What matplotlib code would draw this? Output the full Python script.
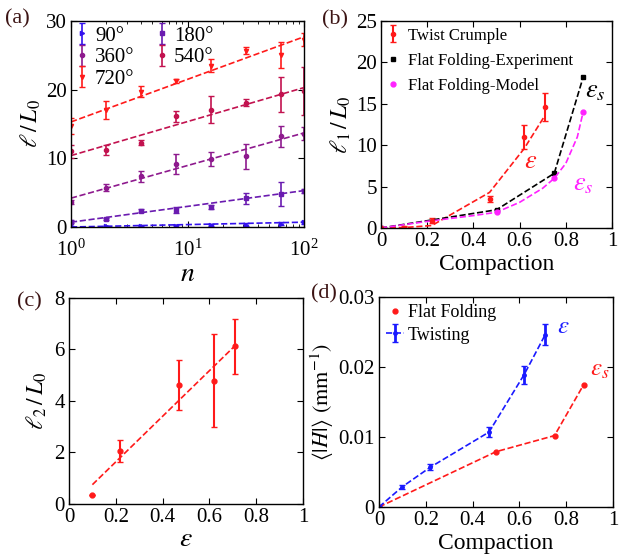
import matplotlib
matplotlib.use("Agg")
import matplotlib.pyplot as plt

plt.rcParams['font.family'] = 'serif'
plt.rcParams['font.serif'] = ['Liberation Serif', 'DejaVu Serif']
plt.rcParams['mathtext.fontset'] = 'stix'
plt.rcParams['xtick.direction'] = 'in'
plt.rcParams['ytick.direction'] = 'in'
plt.rcParams['xtick.top'] = True
plt.rcParams['ytick.right'] = True
plt.rcParams['axes.linewidth'] = 1.0

# (a) длина от числа циклов n
n_vals = [1, 2, 4, 8, 16, 32, 64, 100]
angles = ['90°', '180°', '360°', '540°', '720°']
a_colors = ['#3311ee', '#6a1bb0', '#8e1a8e', '#c2124f', '#ff1a1a']
a_markers = ['>', 's', 'o', 'o', 'v']
a_y = [
    [0.1, 0.1, 0.1, 0.15, 0.25, 0.35, 0.5, 0.7],
    [0.8, 1.1, 2.4, 2.5, 2.9, 4.2, 4.8, 5.3],
    [3.6, 5.7, 7.4, 9.2, 9.9, 10.3, 13.2, 13.6],
    [11.0, 11.2, 12.3, 16.1, 17.1, 18.1, 19.3, 19.8],
    [14.7, 17.0, 19.7, 21.2, 23.5, 25.7, 25.0, 27.3],
]
a_err = [
    [0.05, 0.05, 0.05, 0.1, 0.15, 0.2, 0.2, 0.2],
    [0.15, 0.15, 0.2, 0.4, 0.3, 0.8, 1.8, 0.3],
    [0.3, 0.5, 0.8, 1.5, 1.0, 1.8, 1.5, 1.0],
    [1.0, 0.7, 0.4, 0.8, 2.0, 0.5, 2.6, 3.5],
    [1.1, 1.3, 0.8, 0.3, 1.0, 0.5, 1.9, 1.0],
]
a_fit_n = [1, 100]
a_fit = [[0.0, 0.7], [0.7, 5.3], [4.2, 13.7], [10.4, 20.3], [15.3, 27.7]]

# (b) l1/L0 от уплотнения
b_tw_x = [0, 0.1, 0.22, 0.47, 0.62, 0.71]
b_tw_y = [0, 0.0, 0.85, 3.5, 11.0, 14.6]
b_tw_err = [0.1, 0.2, 0.3, 0.4, 1.4, 1.7]
b_tw_fit = [0, 0.05, 0.3, 4.3, 9.6, 13.6]
b_exp_x = [0, 0.5, 0.75, 0.875]
b_exp_y = [0, 2.2, 6.6, 18.2]
b_mod_x = [0, 0.5, 0.75, 0.875]
b_mod_y = [0, 1.9, 6.0, 14.0]
b_curve_x = [0, 0.1, 0.2, 0.3, 0.4, 0.5, 0.6, 0.7, 0.75, 0.8, 0.85, 0.875]
b_curve_y = [0, 0.4, 0.8, 1.15, 1.5, 1.9, 3.1, 4.8, 6.0, 7.8, 11.0, 14.0]

# (c) l2/L0 от epsilon
c_x = [0.1, 0.22, 0.47, 0.62, 0.71]
c_y = [0.35, 2.05, 4.62, 4.79, 6.12]
c_err = [0.0, 0.43, 0.96, 1.8, 1.06]
c_fit_x = [0.1, 0.71]
c_fit_y = [0.75, 6.15]

# (d) средняя кривизна
d_ff_x = [0, 0.5, 0.75, 0.875]
d_ff_y = [0, 0.0079, 0.0102, 0.0175]
d_tw_x = [0, 0.1, 0.22, 0.47, 0.62, 0.71]
d_tw_y = [0, 0.0029, 0.0057, 0.0107, 0.0189, 0.0246]
d_tw_err = [0.0002, 0.0003, 0.0004, 0.0007, 0.0013, 0.0015]

fig = plt.figure(figsize=(6.25, 5.58), dpi=100)
ax_a = fig.add_axes([0.1136, 0.5932, 0.3728, 0.3692])
ax_b = fig.add_axes([0.6096, 0.5914, 0.3696, 0.3710])
ax_c = fig.add_axes([0.1104, 0.0968, 0.3744, 0.3692])
ax_d = fig.add_axes([0.6064, 0.0914, 0.3744, 0.3763])

tick_fs = 15
lab_col = '#3c1414'
ticks01 = [0, 0.2, 0.4, 0.6, 0.8, 1]
ticks01_lbl = ['0', '0.2', '0.4', '0.6', '0.8', '1']

# --- (a)
handles = []
for i in range(len(angles)):
    h = ax_a.errorbar(n_vals, a_y[i], yerr=a_err[i], fmt=a_markers[i], color=a_colors[i],
                      ms=3, capsize=2, elinewidth=1.2, label=angles[i])
    ax_a.plot(a_fit_n, a_fit[i], '--', color=a_colors[i], lw=1.2)
    handles.append(h)
ax_a.set_xscale('log')
ax_a.set_xlim(1, 100)
ax_a.set_ylim(0, 30)
ax_a.set_yticks([0, 10, 20, 30])
ax_a.set_xlabel('$n$', fontsize=20, labelpad=1)
ax_a.set_ylabel(r'$\ell\,/\,L_0$', fontsize=17, labelpad=2)
order = [0, 2, 4, 1, 3]
ax_a.legend([handles[k] for k in order], [angles[k] for k in order], ncol=2, frameon=False,
            loc='upper left', fontsize=15, handlelength=0.6, handletextpad=0.3,
            columnspacing=1.0, labelspacing=0.1, borderaxespad=0.1, borderpad=0.15)
fig.text(0.008, 1 - 19 / 558, '(a)', fontsize=16, color=lab_col, va='center')

# --- (b)
ax_b.plot(b_tw_x, b_tw_fit, '--', color='#ff1a1a', lw=1.2)
h_tw = ax_b.errorbar(b_tw_x, b_tw_y, yerr=b_tw_err, fmt='o', color='#ff1a1a', ms=3, capsize=2)
ax_b.plot(b_exp_x, b_exp_y, '--', color='black', lw=1.2)
h_exp, = ax_b.plot(b_exp_x, b_exp_y, 's', color='black', ms=3.5)
ax_b.plot(b_curve_x, b_curve_y, '--', color='#ff22ff', lw=1.2)
h_mod, = ax_b.plot(b_mod_x, b_mod_y, 'o', color='#ff22ff', ms=3.5)
ax_b.set_xlim(0, 1)
ax_b.set_ylim(0, 25)
ax_b.set_yticks([0, 5, 10, 15, 20, 25])
ax_b.set_xticks(ticks01)
ax_b.set_xticklabels(ticks01_lbl)
ax_b.set_xlabel('Compaction', fontsize=17, labelpad=2)
ax_b.set_ylabel(r'$\ell_1\,/\,L_0$', fontsize=17, labelpad=2)
ax_b.legend([h_tw, h_exp, h_mod],
            ['Twist Crumple', 'Flat Folding-Experiment', 'Flat Folding-Model'],
            frameon=False, loc='upper left', fontsize=12, handlelength=0.6,
            handletextpad=0.6, labelspacing=0.55, borderaxespad=0.1, borderpad=0.3)
ax_b.text(0.62, 7.2, r'$\varepsilon$', color='#ff1a1a', fontsize=19)
ax_b.text(0.885, 15.8, r'$\varepsilon_s$', color='black', fontsize=19)
ax_b.text(0.83, 4.6, r'$\varepsilon_s$', color='#ff22ff', fontsize=19)
fig.text(0.515, 1 - 20 / 558, '(b)', fontsize=16, color=lab_col, va='center')

# --- (c)
ax_c.plot(c_fit_x, c_fit_y, '--', color='#ff1a1a', lw=1.2)
ax_c.errorbar(c_x, c_y, yerr=c_err, fmt='o', color='#ff1a1a', ms=3.5, capsize=2, elinewidth=1.5)
ax_c.set_xlim(0, 1)
ax_c.set_ylim(0, 8)
ax_c.set_xticks(ticks01)
ax_c.set_xticklabels(ticks01_lbl)
ax_c.set_yticks([0, 2, 4, 6, 8])
ax_c.set_xlabel(r'$\varepsilon$', fontsize=20, labelpad=0)
ax_c.set_ylabel(r'$\ell_2\,/\,L_0$', fontsize=17, labelpad=4)
fig.text(0.028, 1 - 302 / 558, '(c)', fontsize=16, color=lab_col, va='center')

# --- (d)
ax_d.plot(d_ff_x, d_ff_y, '--', color='#ff1a1a', lw=1.2)
h_ff, = ax_d.plot(d_ff_x, d_ff_y, 'o', color='#ff1a1a', ms=3.5)
h_dtw = ax_d.errorbar(d_tw_x, d_tw_y, yerr=d_tw_err, fmt='--', marker='o', ms=2.5,
                      color='#1a1aff', lw=1.2, capsize=2, elinewidth=2)
ax_d.set_xlim(0, 1)
ax_d.set_ylim(0, 0.03)
ax_d.set_xticks(ticks01)
ax_d.set_xticklabels(ticks01_lbl)
ax_d.set_yticks([0, 0.01, 0.02, 0.03])
ax_d.set_yticklabels(['0', '0.01', '0.02', '0.03'])
ax_d.set_xlabel('Compaction', fontsize=17, labelpad=2)
ax_d.set_ylabel(r'$\langle|H|\rangle\ (\mathrm{mm}^{-1})$', fontsize=16, labelpad=2)
ax_d.legend([h_ff, h_dtw], ['Flat Folding', 'Twisting'], frameon=False, loc='upper left',
            fontsize=13, handlelength=1.0, handletextpad=0.2, labelspacing=0.3,
            borderaxespad=0.1, borderpad=0.3)
ax_d.text(0.76, 0.0248, r'$\varepsilon$', color='#1a1aff', fontsize=18)
ax_d.text(0.9, 0.0188, r'$\varepsilon_s$', color='#ff1a1a', fontsize=18)
fig.text(0.498, 1 - 294 / 558, '(d)', fontsize=16, color=lab_col, va='center')

for ax in (ax_a, ax_b, ax_c, ax_d):
    ax.tick_params(labelsize=tick_fs, length=4, pad=3)
    ax.tick_params(which='minor', length=2)
ax_a.tick_params(axis='x', pad=9)

fig.savefig('out.png', dpi=100)
